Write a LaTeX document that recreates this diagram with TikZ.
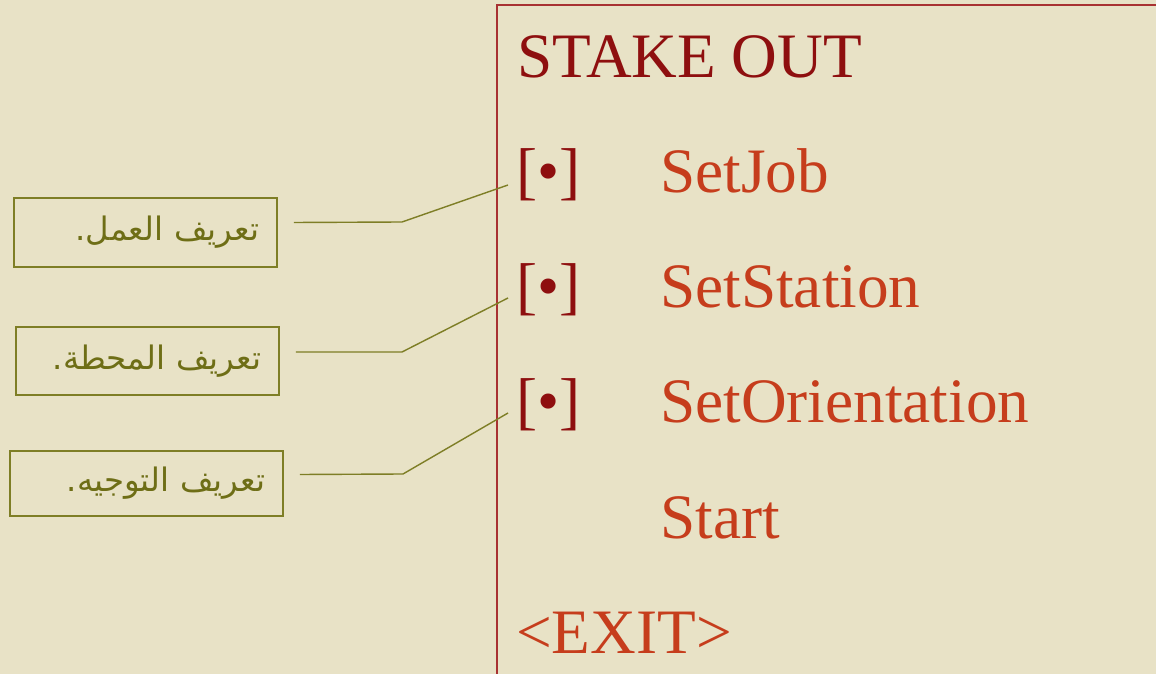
\documentclass[tikz,border=0pt]{standalone}
\usepackage{fontspec}
\setmainfont{Liberation Serif}
\newfontfamily\arabicfont[Script=Arabic]{DejaVu Sans}
\TeXXeTstate=1
\definecolor{fundo}{HTML}{E8E2C6}
\definecolor{vinho}{HTML}{8E0F0F}
\definecolor{laranja}{HTML}{C63D1C}
\definecolor{moldura}{HTML}{A83232}
\definecolor{oliva}{HTML}{6E6E16}
\definecolor{olivab}{HTML}{7E7E26}
\tikzset{
  titulo/.style = {anchor=base west, inner sep=0pt, text=vinho,
                   font=\fontsize{45}{48}\selectfont},
  marca/.style  = {anchor=base west, inner sep=0pt, text=vinho,
                   font=\fontsize{45}{48}\selectfont},
  item/.style   = {anchor=base west, inner sep=0pt, text=laranja,
                   font=\fontsize{45}{48}\selectfont},
  caixa/.style  = {rectangle, draw=olivab, line width=1.1pt, text=oliva,
                   inner xsep=0.45cm, align=right,
                   font=\arabicfont\fontsize{23}{26}\selectfont},
  ligacao/.style = {draw=olivab, line width=1pt},
}
\begin{document}
\begin{tikzpicture}[x=0.025cm, y=-0.025cm]
\fill[fundo] (0,0) rectangle (1156,674);
\useasboundingbox (0,0) rectangle (1156,674);

% moldura do menu
\coordinate (canto) at (497,5);
\draw[moldura, line width=1.2pt] (1160,5) -- (canto) -- (497,680);

% menu
\node[titulo] (stake) at (517,78) {STAKE OUT};
\node[marca] (m1) at (516,193) {[•]};
\node[item] (job) at (660,193) {SetJob};
\node[marca] (m2) at (516,308) {[•]};
\node[item] (station) at (660,308) {SetStation};
\node[marca] (m3) at (516,423) {[•]};
\node[item] (orient) at (660,423) {SetOrientation};
\node[item] (start) at (660,538) {Start};
\node[item] (exit) at (516,653) {<EXIT>};

% caixas explicativas
\node[caixa, text width=5.68cm, minimum height=1.725cm] (c1) at (145.5,232.5)
  {\beginR تعريف العمل.\endR};
\node[caixa, text width=5.68cm, minimum height=1.7cm] (c2) at (147.5,361)
  {\beginR تعريف المحطة.\endR};
\node[caixa, text width=5.93cm, minimum height=1.625cm] (c3) at (146.5,483.5)
  {\beginR تعريف التوجيه.\endR};

% ligacoes
\coordinate (k1) at (402,222);
\coordinate (e1) at (508,185);
\coordinate (k2) at (402,352);
\coordinate (e2) at (508,298);
\coordinate (k3) at (403,474);
\coordinate (e3) at (508,413);
\draw[ligacao] (c1.east) ++(16,-10) -- (k1) -- (e1);
\draw[ligacao] (c2.east) ++(16,-9) -- (k2) -- (e2);
\draw[ligacao] (c3.east) ++(16,-9) -- (k3) -- (e3);
\end{tikzpicture}
\end{document}
